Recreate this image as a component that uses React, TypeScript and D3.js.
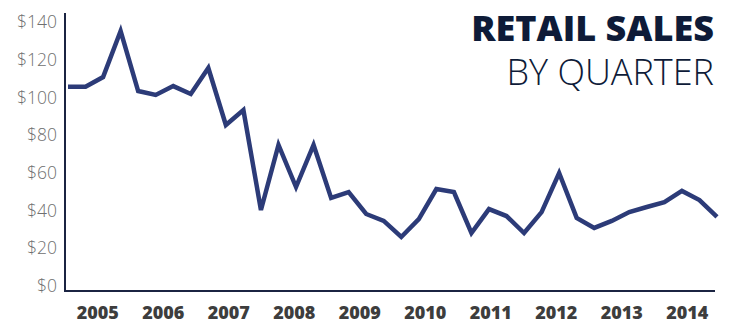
import React from "react";
import * as d3 from "d3";

const years = ["2005","2006","2007","2008","2009","2010","2011","2012","2013","2014"];
const sales = [105.7,105.7,110.8,135.2,103.4,101.3,106.0,101.8,115.6,85.4,93.3,40.3,74.8,52.5,74.8,46.7,49.8,38.2,34.5,26.0,35.5,51.4,49.8,28.1,40.8,37.1,28.1,39.2,59.9,36.1,30.8,34.5,39.2,41.9,44.5,50.4,45.6,36.6];
const yTicks = [0,20,40,60,80,100,120,140];

export default function App() {
  const W = 731, H = 324;
  const x = d3.scalePoint<number>().domain(sales.map((_, i) => i)).range([68, 717]);
  const y = d3.scaleLinear().domain([0, 140]).range([286, 22]);
  const xb = d3.scaleBand().domain(years).range([65, 720]);
  const line = d3.line<number>().x((_, i) => x(i) as number).y(d => y(d)).curve(d3.curveLinear);
  const axisY = y(0) + 5;
  return (
    <svg width={W} height={H} style={{ position: "absolute", left: 0, top: 0, background: "#fff" }}>
      <g fontFamily="'Open Sans', sans-serif">
        {yTicks.map(t => (
          <text key={t} x={57} y={y(t)} dy="0.35em" textAnchor="end" fontSize={17.5} fontWeight={300} fill="#6f6f6f">${t}</text>
        ))}
        {years.map(yr => (
          <text key={yr} x={(xb(yr) as number) + xb.bandwidth() / 2} y={319} textAnchor="middle" fontSize={18} fontWeight={800} fill="#3d3d3d">{yr}</text>
        ))}
        <text x={714} y={41} textAnchor="end" fontSize={36} fontWeight={800} fill="#0e1b38">RETAIL SALES</text>
        <text x={714} y={85} textAnchor="end" fontSize={36} fontWeight={300} fill="#0e1b38">BY QUARTER</text>
      </g>
      <line x1={65} x2={65} y1={13} y2={axisY + 1} stroke="#1b2442" strokeWidth={2} />
      <line x1={64} x2={715} y1={axisY} y2={axisY} stroke="#1b2442" strokeWidth={2} />
      <path d={line(sales) || ""} fill="none" stroke="#2c3b78" strokeWidth={4.5} strokeLinejoin="miter" strokeLinecap="butt" />
    </svg>
  );
}
